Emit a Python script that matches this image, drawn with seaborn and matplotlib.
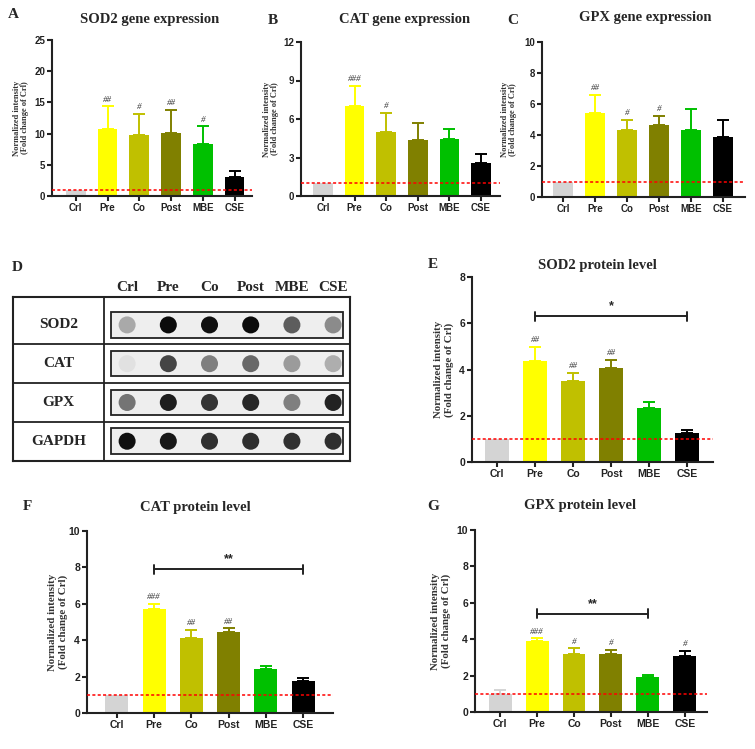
import numpy as np
import matplotlib
matplotlib.use("Agg")
import matplotlib.pyplot as plt
import seaborn as sns

groups = ["Crl", "Pre", "Co", "Post", "MBE", "CSE"]
bar_colors = ["#d4d4d4", "#ffff00", "#c0c000", "#808000", "#00c000", "#000000"]

# gene expression (A-C)
sod2_gene = [1.0, 10.7, 9.7, 10.05, 8.35, 3.1]
sod2_gene_sd = [0, 3.65, 3.4, 3.7, 2.8, 0.85]
sod2_gene_marks = ["", "##", "#", "##", "#", ""]

cat_gene = [1.0, 7.0, 4.95, 4.4, 4.45, 2.6]
cat_gene_sd = [0, 1.6, 1.55, 1.25, 0.75, 0.7]
cat_gene_marks = ["", "###", "#", "", "", ""]

gpx_gene = [1.0, 5.4, 4.35, 4.65, 4.3, 3.9]
gpx_gene_sd = [0, 1.2, 0.6, 0.6, 1.35, 1.05]
gpx_gene_marks = ["", "##", "#", "#", "", ""]

# protein level (E-G)
sod2_prot = [1.0, 4.35, 3.52, 4.05, 2.33, 1.27]
sod2_prot_sd = [0, 0.62, 0.33, 0.37, 0.27, 0.13]
sod2_prot_marks = ["", "##", "##", "##", "", ""]

cat_prot = [1.0, 5.7, 4.1, 4.47, 2.4, 1.77]
cat_prot_sd = [0, 0.28, 0.45, 0.18, 0.18, 0.15]
cat_prot_marks = ["", "###", "##", "##", "", ""]

gpx_prot = [1.0, 3.9, 3.17, 3.2, 1.92, 3.08]
gpx_prot_sd = [0.22, 0.15, 0.33, 0.23, 0.12, 0.28]
gpx_prot_marks = ["", "###", "#", "#", "", "#"]

# dot blot darkness (0 = white, 1 = black)
blot_rows = ["SOD2", "CAT", "GPX", "GAPDH"]
blot_sod2 = [0.32, 1.0, 0.98, 1.0, 0.65, 0.45]
blot_cat = [0.08, 0.75, 0.5, 0.6, 0.38, 0.3]
blot_gpx = [0.55, 0.92, 0.82, 0.88, 0.5, 0.9]
blot_gapdh = [0.98, 0.95, 0.84, 0.85, 0.84, 0.85]

sns.set_style("ticks")
plt.rcParams['font.family'] = ['Liberation Sans', 'DejaVu Sans']

W, H = 755, 749
fig = plt.figure(figsize=(W / 100, H / 100), dpi=100)


def px_axes(left, top, right, bottom):
    return fig.add_axes([left / W, 1 - bottom / H, (right - left) / W, (bottom - top) / H])


def bar_panel(box, xlim, means, sds, marks, ymax, ystep, ylab_x, ylab_fs, title, title_xy,
              letter, letter_xy, bracket=None, fs_tick=7.5):
    ax = px_axes(*box)
    sns.barplot(x=groups, y=means, hue=groups, palette=bar_colors, legend=False,
                ax=ax, width=0.62, saturation=1, linewidth=0)
    for i, (m, s) in enumerate(zip(means, sds)):
        if s > 0:
            ax.errorbar(i, m, yerr=[[0], [s]], color=bar_colors[i], capsize=4,
                        elinewidth=1.4, capthick=1.4, fmt="none")
        if marks[i]:
            ax.annotate(marks[i], (i, m + s), xytext=(0, 2), textcoords="offset points",
                        ha="center", va="bottom", fontsize=6.5, family="Liberation Serif",
                        style="italic", color="#333333")
    ax.axhline(1, color="red", ls=(0, (2, 1.5)), lw=1.1, zorder=5)
    if bracket:
        i0, i1, yb, star = bracket
        tick = ymax * 0.025
        ax.plot([i0, i1], [yb, yb], color="#222222", lw=1.4)
        ax.plot([i0, i0], [yb - tick, yb + tick], color="#222222", lw=1.4)
        ax.plot([i1, i1], [yb - tick, yb + tick], color="#222222", lw=1.4)
        ax.text((i0 + i1) / 2, yb + ymax * 0.02, star, ha="center", va="bottom",
                fontsize=9, fontweight="bold")
    ax.set_xlim(*xlim)
    ax.set_ylim(0, ymax)
    ax.set_yticks(np.arange(0, ymax + 0.01, ystep))
    ax.set_xlabel("")
    ax.set_ylabel("")
    for sp in ["left", "bottom"]:
        ax.spines[sp].set_linewidth(1.5)
        ax.spines[sp].set_color("#222222")
    sns.despine(ax=ax)
    ax.tick_params(width=1.5, length=3.5, labelsize=fs_tick, color="#222222", pad=1.5)
    for lab in ax.get_xticklabels() + ax.get_yticklabels():
        lab.set_fontweight("bold")
        lab.set_color("#222222")
    cy = (box[1] + box[3]) / 2
    fig.text(ylab_x / W, 1 - cy / H, "Normalized intensity\n(Fold change of Crl)",
             rotation=90, ha="center", va="center", fontsize=ylab_fs, fontweight="bold",
             family="Liberation Serif", color="#333333", linespacing=1.15)
    fig.text(title_xy[0] / W, 1 - title_xy[1] / H, title, ha="center", va="center",
             fontsize=10.5, fontweight="bold", family="Liberation Serif")
    fig.text(letter_xy[0] / W, 1 - letter_xy[1] / H, letter, ha="center", va="center",
             fontsize=11, fontweight="bold", family="Liberation Serif")
    return ax


bar_panel((52, 40, 252, 196), (-0.75, 5.55), sod2_gene, sod2_gene_sd, sod2_gene_marks,
          25, 5, 21, 6, "SOD2 gene expression", (150, 19), "A", (13, 15), fs_tick=7)
bar_panel((301, 42, 500, 196), (-0.7, 5.6), cat_gene, cat_gene_sd, cat_gene_marks,
          12, 3, 271, 6, "CAT gene expression", (405, 19), "B", (273, 20), fs_tick=7)
bar_panel((542, 42, 745, 197), (-0.66, 5.7), gpx_gene, gpx_gene_sd, gpx_gene_marks,
          10, 2, 509, 6, "GPX gene expression", (645, 18), "C", (513, 20), fs_tick=7)

bar_panel((472, 277, 713, 462), (-0.66, 5.68), sod2_prot, sod2_prot_sd, sod2_prot_marks,
          8, 2, 444, 7.8, "SOD2 protein level", (597, 265), "E", (433, 265),
          bracket=(1, 5, 6.3, "*"))
bar_panel((87, 531, 333, 713), (-0.8, 5.8), cat_prot, cat_prot_sd, cat_prot_marks,
          10, 2, 58, 7.8, "CAT protein level", (195, 508), "F", (27, 507),
          bracket=(1, 5, 7.9, "**"))
bar_panel((475, 530, 707, 712), (-0.68, 5.6), gpx_prot, gpx_prot_sd, gpx_prot_marks,
          10, 2, 441, 7.8, "GPX protein level", (580, 506), "G", (433, 506),
          bracket=(1, 4, 5.4, "**"))

# D: dot blot
axd = px_axes(13, 297, 350, 461)
blot = [blot_sod2, blot_cat, blot_gpx, blot_gapdh]
xs, ys, vs = [], [], []
for r, row in enumerate(blot):
    for c, v in enumerate(row):
        xs.append(c)
        ys.append(r)
        vs.append(v)
for r in range(len(blot_rows)):
    axd.add_patch(plt.Rectangle((-0.39, r - 0.33), 5.63, 0.66, facecolor="#eeeeee",
                                edgecolor="#222222", lw=1.3, zorder=1))
    axd.text(-1.67, r, blot_rows[r], ha="center", va="center", fontsize=11,
             fontweight="bold", family="Liberation Serif")
sns.scatterplot(x=xs, y=ys, hue=vs, palette="gray_r", hue_norm=(-0.05, 1.05), s=150,
                linewidth=0, legend=False, ax=axd, zorder=3)
for yy in [0.48, 1.5, 2.5]:
    axd.axhline(yy, color="#222222", lw=1.3)
axd.axvline(-0.56, color="#222222", lw=1.3)
for i, g in enumerate(groups):
    axd.text(i, -0.96, g, ha="center", va="center", fontsize=11, fontweight="bold",
             family="Liberation Serif", clip_on=False)
axd.set_xlim(-2.77, 5.41)
axd.set_ylim(3.51, -0.72)
axd.set_xticks([])
axd.set_yticks([])
for sp in axd.spines.values():
    sp.set_visible(True)
    sp.set_linewidth(1.5)
    sp.set_color("#222222")
fig.text(12 / W, 1 - 267 / H, "D", ha="left", va="center", fontsize=11,
         fontweight="bold", family="Liberation Serif")

fig.savefig("out.png", dpi=100)
